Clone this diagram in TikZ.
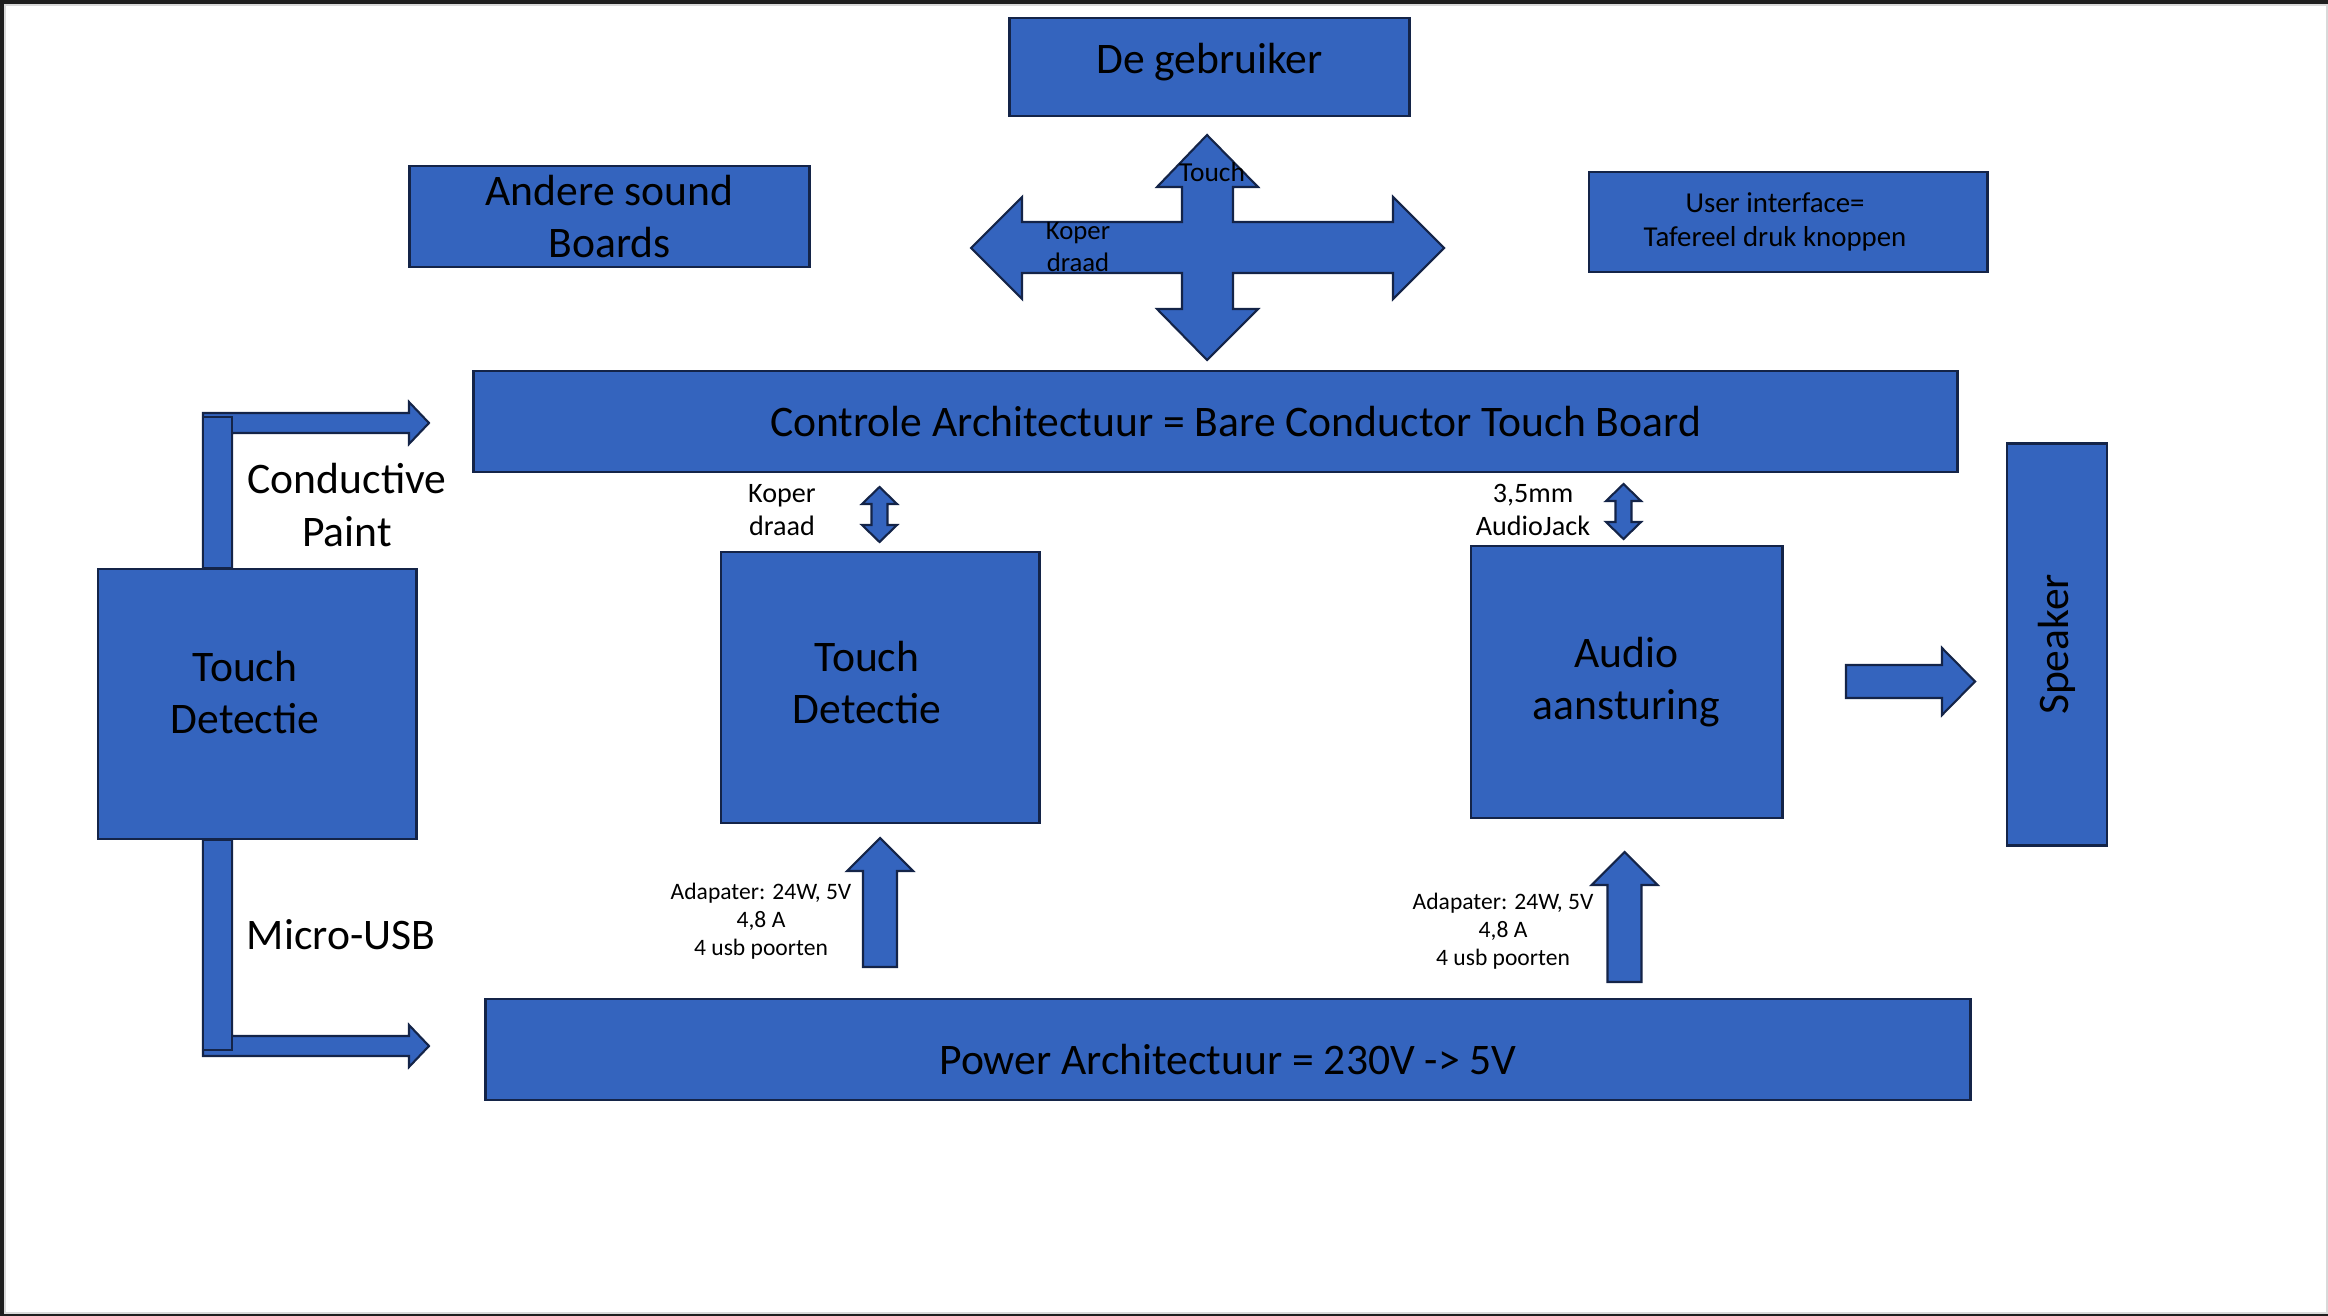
\documentclass[tikz,border=0pt]{standalone}
\usepackage{fontspec}
\setmainfont{Carlito}
\definecolor{blokblauw}{RGB}{52,100,190}
\definecolor{bloklijn}{RGB}{20,36,72}
\definecolor{rand}{RGB}{30,30,30}
\newcommand{\grootfont}{\fontsize{12.4}{14.8}\selectfont}
\newcommand{\middelfont}{\fontsize{8}{9.6}\selectfont}
\newcommand{\kleinfont}{\fontsize{6.7}{8}\selectfont}
\begin{document}
\begin{tikzpicture}[x=0.01cm, y=-0.01cm,
        blok/.style={draw=bloklijn, fill=blokblauw, line width=0.8pt, inner sep=0pt, align=center, font=\grootfont},
        pijl/.style={draw=bloklijn, fill=blokblauw, line width=0.6pt, line join=miter},
        groot/.style={inner sep=0pt, align=center, font=\grootfont},
        middel/.style={inner sep=0pt, align=center, font=\middelfont},
        klein/.style={inner sep=0pt, align=center, font=\kleinfont}]
        \useasboundingbox (0,0) rectangle (2328,1316);
        \fill[rand] (0,0) rectangle (2328,4);
        \fill[rand] (0,0) rectangle (4,1316);
        \fill[rand] (0,1314) rectangle (2328,1316);
        \fill[gray!30] (4,4) rectangle (2328,6);
        \fill[gray!30] (4,4) rectangle (6,1314);
        \fill[gray!30] (4,1312) rectangle (2328,1314);
        \fill[gray!30] (2326,4) rectangle (2328,1314);

        \node[blok, minimum width=3.99cm, minimum height=0.98cm,
            label={[groot, yshift=0.05cm]center:De gebruiker}] (gebruiker) at (1209.5,67) {};
        \node[blok, minimum width=3.99cm, minimum height=1.01cm] (andere) at (609.5,216.5) {Andere sound\\Boards};
        \node[blok, minimum width=3.98cm, minimum height=1cm,
            label={[middel, font=\fontsize{8.2}{9.8}\selectfont, xshift=-0.13cm]center:User interface=\\Tafereel druk knoppen}] (userif) at (1788,222) {};

        \draw[pijl] (1207,135) -- (1258,187) -- (1233,187) -- (1233,222) -- (1393,222) -- (1393,197)
            -- (1444,248) -- (1393,299) -- (1393,273) -- (1233,273) -- (1233,309) -- (1258,309)
            -- (1207,360) -- (1157,309) -- (1182,309) -- (1182,273) -- (1022,273) -- (1022,299)
            -- (971,248) -- (1022,197) -- (1022,222) -- (1182,222) -- (1182,187) -- (1157,187) -- cycle;
        \node[middel, font=\fontsize{7.8}{9.2}\selectfont] (touch) at (1212,172) {Touch};
        \node[middel, font=\fontsize{7.6}{9.2}\selectfont] (koperboven) at (1078,247) {Koper\\draad};

        \node[blok, minimum width=14.83cm, minimum height=1.01cm,
            label={[groot, xshift=0.2cm]center:Controle Architectuur = Bare Conductor Touch Board}] (controle) at (1215.5,421.5) {};

        \draw[pijl] (203,568) -- (203,413) -- (409,413) -- (409,402) -- (429,423) -- (409,444) -- (409,433) -- (232,433) -- (232,568) -- cycle;
        \draw[pijl] (203,417) rectangle (232,568);
        \draw[pijl] (203,840) -- (203,1056) -- (409,1056) -- (409,1067) -- (429,1046) -- (409,1025) -- (409,1036) -- (232,1036) -- (232,840) -- cycle;
        \draw[pijl] (203,840) rectangle (232,1050);
        \node[groot] (paint) at (347,505) {Conductive\\Paint};
        \node[groot] (usb) at (341,935) {Micro-USB};

        \node[blok, minimum width=3.18cm, minimum height=2.7cm,
            label={[groot, xshift=-0.12cm, yshift=0.11cm]center:Touch\\Detectie}] (touchlinks) at (257,704) {};
        \node[blok, minimum width=3.18cm, minimum height=2.71cm,
            label={[groot, xshift=-0.13cm, yshift=0.05cm]center:Touch\\Detectie}] (touchmidden) at (880,687.5) {};
        \node[blok, minimum width=3.11cm, minimum height=2.72cm] (audio) at (1626.5,682) {Audio\\aansturing};
        \node[blok, rotate=90, minimum width=4.01cm, minimum height=1cm] (speaker) at (2057,644.5) {Speaker};
        \node[blok, minimum width=14.84cm, minimum height=1.01cm,
            label={[groot, yshift=-0.105cm]center:Power Architectuur = 230V -> 5V}] (power) at (1228,1049.5) {};

        \foreach \cx/\ta/\tb in {879.5/487/542, 1623.5/484/539} {
            \draw[pijl] (\cx,\ta) -- (\cx+17.5,\ta+17) -- (\cx+8,\ta+17) -- (\cx+8,\tb-17) -- (\cx+17.5,\tb-17)
                -- (\cx,\tb) -- (\cx-17.5,\tb-17) -- (\cx-8,\tb-17) -- (\cx-8,\ta+17) -- (\cx-17.5,\ta+17) -- cycle;
        }
        \node[middel] (kopermidden) at (782,510) {Koper\\draad};
        \node[middel] (jack) at (1533,510) {3,5mm\\AudioJack};

        \foreach \cx/\tip/\bot in {880/838/967, 1624.5/852/982} {
            \draw[pijl] (\cx,\tip) -- (\cx+33,\tip+33) -- (\cx+17,\tip+33) -- (\cx+17,\bot) -- (\cx-17,\bot)
                -- (\cx-17,\tip+33) -- (\cx-33,\tip+33) -- cycle;
        }
        \node[klein] (adapter1) at (761,921) {Adapater: 24W, 5V\\4,8 A\\4 usb poorten};
        \node[klein] (adapter2) at (1503,931) {Adapater: 24W, 5V\\4,8 A\\4 usb poorten};

        \draw[pijl] (1846,665) -- (1942,665) -- (1942,648) -- (1975,681.5) -- (1942,715) -- (1942,698) -- (1846,698) -- cycle;
    \end{tikzpicture}
\end{document}
